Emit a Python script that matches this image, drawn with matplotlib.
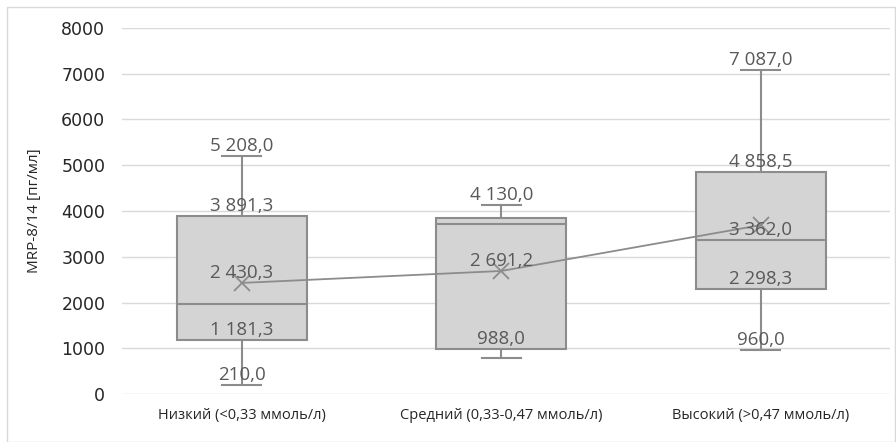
import matplotlib
matplotlib.use("Agg")
import matplotlib.pyplot as plt
from matplotlib.patches import Rectangle

categories = ["Низкий (<0,33 ммоль/л)", "Средний (0,33-0,47 ммоль/л)", "Высокий (>0,47 ммоль/л)"]
whisker_low = [210.0, 785.0, 960.0]
q1 = [1181.3, 988.0, 2298.3]
median = [1970.0, 3710.0, 3362.0]
q3 = [3891.3, 3840.0, 4858.5]
whisker_high = [5208.0, 4130.0, 7087.0]
mean = [2430.3, 2691.2, 3692.0]

# values that carry a text label in each group
labelled = [
    [whisker_high[0], q3[0], mean[0], q1[0], whisker_low[0]],
    [whisker_high[1], mean[1], q1[1]],
    [whisker_high[2], q3[2], median[2], q1[2], whisker_low[2]],
]

y_ticks = [0, 1000, 2000, 3000, 4000, 5000, 6000, 7000, 8000]


def fmt(v):
    s = f"{v:,.1f}".replace(",", " ").replace(".", ",")
    return s


edge = "#8c8c8c"
fill = "#d4d4d4"
text_col = "#595959"

fig = plt.figure(figsize=(8.96, 4.42), dpi=100)
fig.patches.append(Rectangle((7 / 896, 0), 888 / 896, 435 / 442, transform=fig.transFigure,
                             fill=False, edgecolor="#d9d9d9", linewidth=1.0))
ax = fig.add_axes([122 / 896, 47.7 / 442, 768 / 896, 366.6 / 442])
ax.set_xlim(-0.461, 2.498)
ax.set_ylim(0, 8000)

for y in y_ticks:
    ax.axhline(y, color="#d9d9d9", linewidth=1.0, zorder=0)

box_w = 0.5
cap_w = 0.15
for i in range(len(categories)):
    ax.plot([i, i], [whisker_low[i], q1[i]], color=edge, lw=1.5, zorder=2)
    ax.plot([i, i], [q3[i], whisker_high[i]], color=edge, lw=1.5, zorder=2)
    ax.plot([i - cap_w / 2, i + cap_w / 2], [whisker_low[i]] * 2, color=edge, lw=1.5, zorder=2)
    ax.plot([i - cap_w / 2, i + cap_w / 2], [whisker_high[i]] * 2, color=edge, lw=1.5, zorder=2)
    ax.add_patch(Rectangle((i - box_w / 2, q1[i]), box_w, q3[i] - q1[i],
                           facecolor=fill, edgecolor=edge, lw=1.5, zorder=3))
    ax.plot([i - box_w / 2, i + box_w / 2], [median[i]] * 2, color=edge, lw=1.5, zorder=4)

xs = list(range(len(categories)))
ax.plot(xs, mean, color=edge, lw=1.3, zorder=5)
ax.plot(xs, mean, linestyle="none", marker="x", markersize=11, markeredgewidth=1.3,
        color=edge, zorder=6)

for i, vals in enumerate(labelled):
    for v in vals:
        ax.text(i, v + 20, fmt(v), ha="center", va="bottom", fontsize=13.5,
                color=text_col, family="Open Sans", zorder=7)

ax.set_yticks(y_ticks)
ax.set_yticklabels([str(t) for t in y_ticks], fontsize=12.5, color="#262626", family="DejaVu Sans")
ax.set_xticks(xs)
ax.set_xticklabels(categories, fontsize=10.5, color="#262626", family="Open Sans")
ax.tick_params(axis="both", length=0)
ax.tick_params(axis="y", pad=12)
ax.tick_params(axis="x", pad=10)
for s in ax.spines.values():
    s.set_visible(False)
ax.set_ylabel("MRP-8/14 [пг/мл]", fontsize=11, color="#262626", family="Open Sans", labelpad=14)

fig.savefig("out.png", dpi=100)
